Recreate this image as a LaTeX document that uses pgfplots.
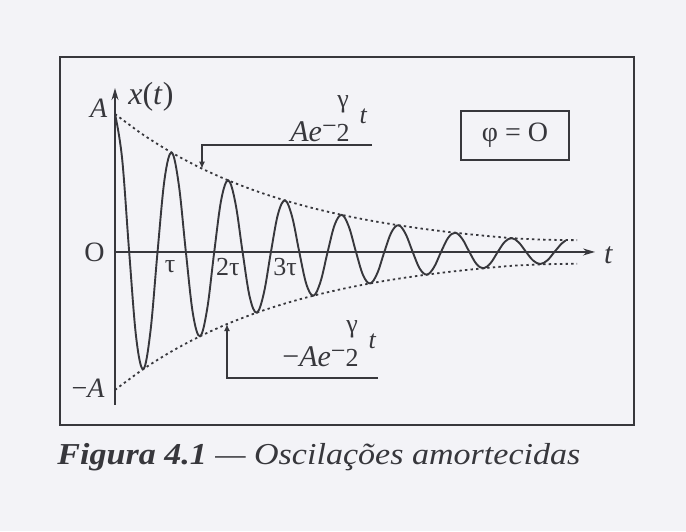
\documentclass[border=0pt]{standalone}
\usepackage{amsmath}
\usepackage{graphicx}
\usepackage{fontspec}
\setmainfont{Liberation Serif}
\usepackage{pgfplots}
\pgfplotsset{compat=1.18}
\usetikzlibrary{arrows.meta}

\definecolor{paper}{RGB}{243,243,247}
\definecolor{ink}{RGB}{55,55,60}

\newcommand{\lbl}{\fontsize{14}{16}\selectfont}
\newcommand{\tlbl}{\fontsize{13}{15}\selectfont}
% exponent -(gamma/2) t of the envelope A e^{-(gamma/2) t}
\newcommand{\envexp}{%
  {\fontsize{13}{13}\selectfont
   \raisebox{3.5pt}{−}%
   \begin{tabular}[b]{@{}c@{}}γ\\[4pt]2\end{tabular}%
   \hspace{5pt}\raisebox{9pt}{\textit{t}}}}

\begin{document}
\begin{tikzpicture}
\path[use as bounding box, fill=paper] (0,0) rectangle (343pt,265.5pt);

\begin{axis}[
  at={(30pt,53pt)}, anchor=south west,
  scale only axis, width=287pt, height=184pt,
  xmin=-0.970, xmax=9.153, ymin=-1.254, ymax=1.413,
  xtick=\empty, ytick=\empty,
  axis line style={draw=ink, line width=1pt},
  clip=false,
]

% damped oscillation x(t) = A e^{-gamma t/2} cos(2 pi t / tau), tau = 1, A = 1
\addplot[ink, line width=0.95pt, smooth, tension=0.6] coordinates {
 (0,1) (0.125,0.6787) (0.25,0) (0.375,-0.6251) (0.5,-0.8485) (0.625,-0.5759) (0.75,0) (0.875,0.5305)
 (1,0.72) (1.125,0.4886) (1.25,0) (1.375,-0.4501) (1.5,-0.6109) (1.625,-0.4146) (1.75,0) (1.875,0.3819)
 (2,0.5184) (2.125,0.3518) (2.25,0) (2.375,-0.3241) (2.5,-0.4399) (2.625,-0.2985) (2.75,0) (2.875,0.2750)
 (3,0.3733) (3.125,0.2533) (3.25,0) (3.375,-0.2333) (3.5,-0.3167) (3.625,-0.2149) (3.75,0) (3.875,0.1980)
 (4,0.2687) (4.125,0.1824) (4.25,0) (4.375,-0.1680) (4.5,-0.2280) (4.625,-0.1548) (4.75,0) (4.875,0.1426)
 (5,0.1935) (5.125,0.1313) (5.25,0) (5.375,-0.1210) (5.5,-0.1642) (5.625,-0.1114) (5.75,0) (5.875,0.1026)
 (6,0.1393) (6.125,0.0945) (6.25,0) (6.375,-0.0871) (6.5,-0.1182) (6.625,-0.0802) (6.75,0) (6.875,0.0739)
 (7,0.1003) (7.125,0.0672) (7.25,0) (7.375,-0.0622) (7.5,-0.0870) (7.625,-0.0608) (7.75,0) (7.875,0.0600)
 (7.95,0.0830)
};

% envelopes +A e^{-gamma t/2} and -A e^{-gamma t/2}
\addplot[ink, line width=0.9pt, dash pattern=on 1.2pt off 1.6pt, smooth] coordinates {
 (0,1) (0.5,0.8485) (1,0.72) (1.5,0.6109) (2,0.5184) (2.5,0.4399) (3,0.3733) (3.5,0.3167)
 (4,0.2687) (4.5,0.2280) (5,0.1935) (5.5,0.1642) (6,0.1393) (6.5,0.1182) (7,0.1003) (7.5,0.090)
 (8,0.086) (8.15,0.086)
};
\addplot[ink, line width=0.9pt, dash pattern=on 1.2pt off 1.6pt, smooth] coordinates {
 (0,-1) (0.5,-0.8485) (1,-0.72) (1.5,-0.6109) (2,-0.5184) (2.5,-0.4399) (3,-0.3733) (3.5,-0.3167)
 (4,-0.2687) (4.5,-0.2280) (5,-0.1935) (5.5,-0.1642) (6,-0.1393) (6.5,-0.1182) (7,-0.1003) (7.5,-0.090)
 (8,-0.086) (8.15,-0.086)
};

% coordinate axes
\draw[ink, line width=0.7pt, -{Stealth[length=6pt,width=3.5pt]}]
  (axis cs:0,-1.109) -- (axis cs:0,1.188);
\draw[ink, line width=0.7pt, -{Stealth[length=6pt,width=3.5pt]}]
  (axis cs:0,0) -- (axis cs:8.466,0);

% axis labels
\node[anchor=base east, inner sep=0pt, text=ink, font=\lbl] at (axis cs:-0.13,0.971) {\textit{A}};
\node[anchor=base east, inner sep=0pt, text=ink, font=\lbl] at (axis cs:-0.176,-1.058) {−\textit{A}};
\node[anchor=east, inner sep=0pt, text=ink, font=\lbl] at (axis cs:-0.176,0.0) {O};
\node[anchor=base west, inner sep=0pt, text=ink, font=\fontsize{16}{18}\selectfont] at (axis cs:0.229,1.072) {\textit{x}(\textit{t})};
\node[anchor=base west, inner sep=0pt, text=ink, font=\fontsize{15}{17}\selectfont] at (axis cs:8.62,-0.08) {\textit{t}};

% period marks
\node[inner sep=0pt, text=ink, font=\tlbl] at (axis cs:0.97,-0.109) {τ};
\node[inner sep=0pt, text=ink, font=\tlbl] at (axis cs:1.99,-0.109) {2τ};
\node[inner sep=0pt, text=ink, font=\tlbl] at (axis cs:3.0,-0.109) {3τ};

% envelope callouts
\node[anchor=base west, inner sep=0pt, text=ink, font=\fontsize{15}{17}\selectfont] at (axis cs:3.086,0.804) {\textit{Ae}\envexp};
\draw[ink, line width=0.6pt, -{Latex[length=3.5pt,width=3pt]}]
  (axis cs:4.533,0.775) -- (axis cs:1.534,0.775) -- (axis cs:1.534,0.604);
\node[anchor=base west, inner sep=0pt, text=ink, font=\fontsize{15}{17}\selectfont] at (axis cs:2.945,-0.833) {−\textit{Ae}\envexp};
\draw[ink, line width=0.6pt, -{Latex[length=3.5pt,width=3pt]}]
  (axis cs:4.64,-0.913) -- (axis cs:1.975,-0.913) -- (axis cs:1.975,-0.5225);

% phase box
\node[draw=ink, line width=0.8pt, text=ink, font=\lbl, minimum width=54pt, minimum height=24.5pt]
  at (axis cs:7.055,0.844) {φ = O};
\end{axis}

% caption
\node[anchor=base west, inner sep=0pt, text=ink] at (28.5pt,33.25pt)
  {\scalebox{1.12}[1]{\fontsize{15.2}{18}\selectfont\textbf{\textit{Figura 4.1}} \textit{— Oscilações amortecidas}}};
\end{tikzpicture}
\end{document}
